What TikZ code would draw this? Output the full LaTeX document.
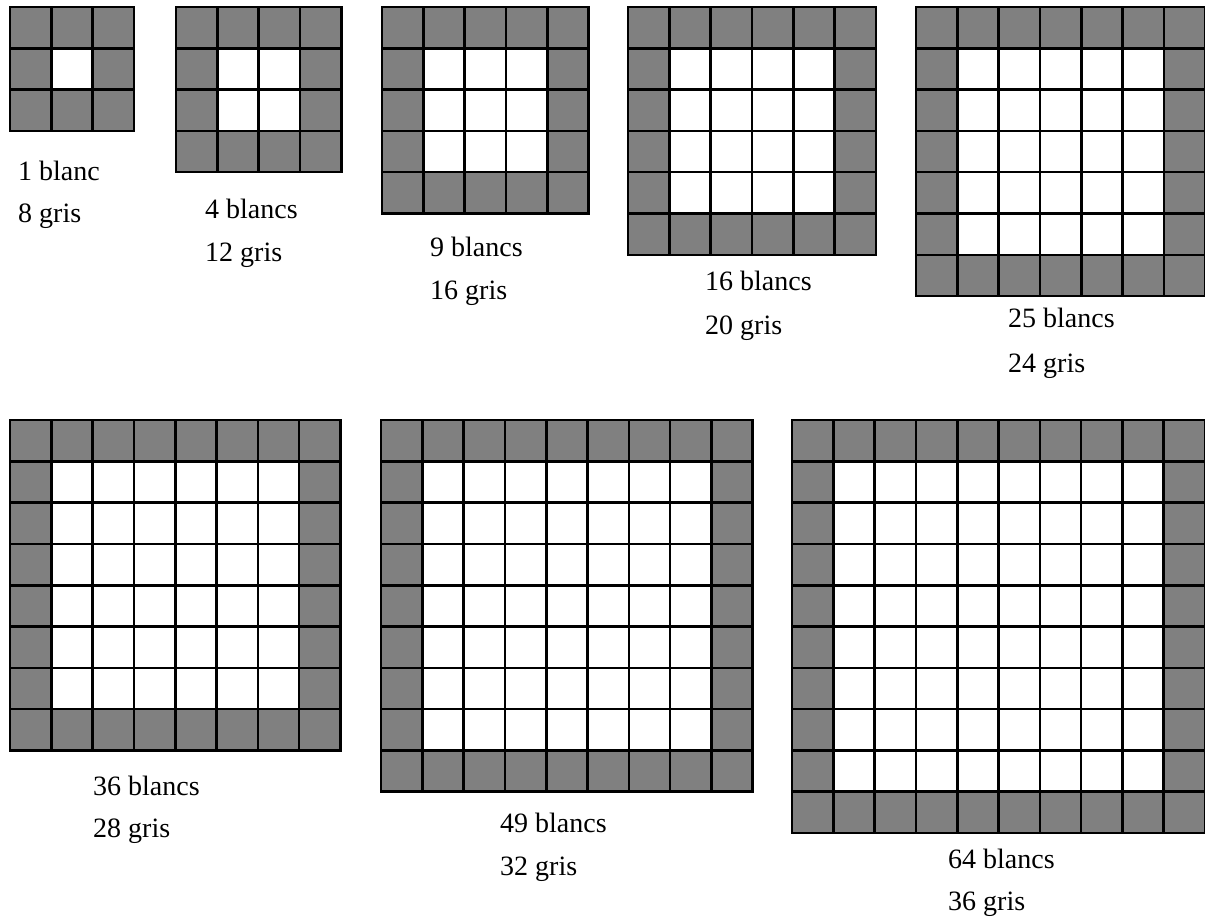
\documentclass[tikz,border=0pt]{standalone}
\usepackage{fontspec}
\setmainfont{Liberation Serif}
\newfontfamily\lblfont{Liberation Serif}
\definecolor{cellgray}{RGB}{128,128,128}
\tikzset{
  gridline/.style={line width=2.6pt, black},
  lbl/.style={anchor=base west, inner sep=0pt, font=\lblfont\fontsize{28}{34}\selectfont}
}
\newcommand\mygrille[3]{% left, top, n
  \pgfmathsetmacro\c{41.3}
  \pgfmathsetmacro\L{#1}\pgfmathsetmacro\T{#2}
  \pgfmathsetmacro\R{#1+#3*\c}\pgfmathsetmacro\B{#2+#3*\c}
  \fill[cellgray] (\L,\T) rectangle (\R,\B);
  \fill[white] (\L+\c,\T+\c) rectangle (\R-\c,\B-\c);
  \foreach \k in {1,...,#3}{
    \pgfmathsetmacro\p{#1+\k*\c}\pgfmathsetmacro\q{#2+\k*\c}
    \draw[gridline] (\p,\T) -- (\p,\B);
    \draw[gridline] (\L,\q) -- (\R,\q);
  }
  \draw[gridline, line join=miter] (\L,\T) rectangle (\R,\B);
}
\begin{document}
\begin{tikzpicture}[x=1pt,y=-1pt]
\useasboundingbox (0,0) rectangle (1205,923);
\mygrille{10}{7}{3}
\mygrille{176}{7}{4}
\mygrille{382}{7}{5}
\mygrille{628}{7}{6}
\mygrille{916}{7}{7}
\mygrille{10}{420}{8}
\mygrille{381}{420}{9}
\mygrille{792}{420}{10}
\node[lbl] (b1) at (18,180) {1 blanc};
\node[lbl] (g1) at (18,222) {8 gris};
\node[lbl] (b2) at (205,218) {4 blancs};
\node[lbl] (g2) at (205,261) {12 gris};
\node[lbl] (b3) at (430,256) {9 blancs};
\node[lbl] (g3) at (430,299) {16 gris};
\node[lbl] (b4) at (705,290) {16 blancs};
\node[lbl] (g4) at (705,334) {20 gris};
\node[lbl] (b5) at (1008,327) {25 blancs};
\node[lbl] (g5) at (1008,372) {24 gris};
\node[lbl] (b6) at (93,795) {36 blancs};
\node[lbl] (g6) at (93,837) {28 gris};
\node[lbl] (b7) at (500,832) {49 blancs};
\node[lbl] (g7) at (500,875) {32 gris};
\node[lbl] (b8) at (948,868) {64 blancs};
\node[lbl] (g8) at (948,910) {36 gris};
\end{tikzpicture}
\end{document}
